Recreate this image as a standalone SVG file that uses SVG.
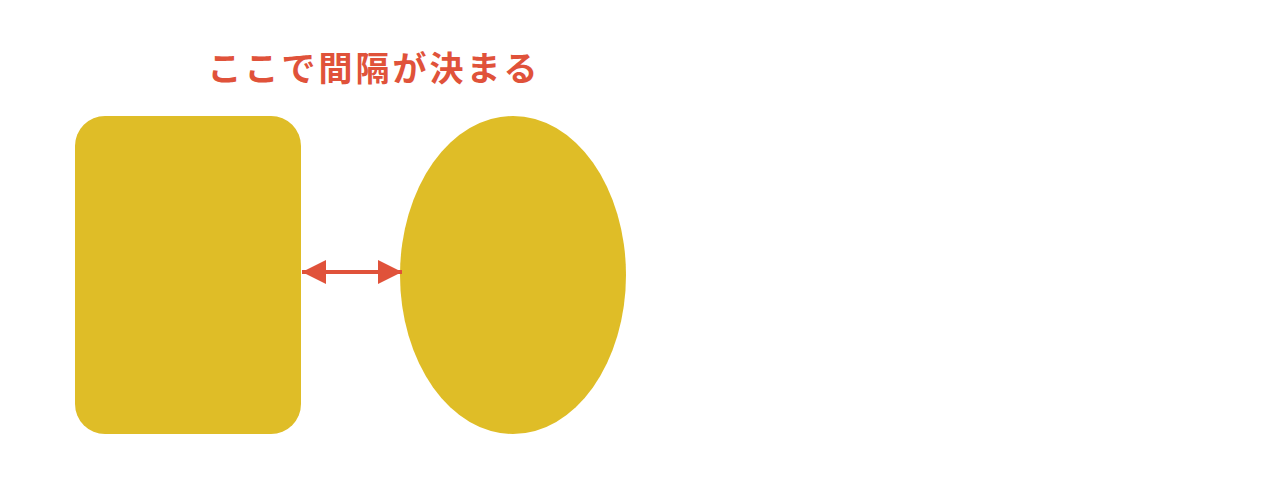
<svg xmlns="http://www.w3.org/2000/svg" width="1280" height="488" viewBox="0 0 1280 488">
<style>
.shape{fill:#dfbd27}
.lbl{font-family:"Noto Sans CJK JP","Noto Sans",sans-serif;font-weight:bold;font-size:34px;fill:#e0523a;letter-spacing:3px}
.conn{stroke:#e0523a;stroke-width:4;fill:none}
</style>
<defs>
<marker id="ah" viewBox="0 0 10 10" refX="10" refY="5" markerWidth="6" markerHeight="6" markerUnits="strokeWidth" orient="auto-start-reverse">
<path d="M0,0 L10,5 L0,10 z" fill="#e0523a"/>
</marker>
</defs>
<rect width="1280" height="488" fill="#ffffff"/>
<g id="title"><text class="lbl" x="374" y="81" text-anchor="middle">ここで間隔が決まる</text></g>
<g id="rect-node"><rect class="shape" x="75" y="116" width="226" height="318" rx="30" ry="30"/></g>
<g id="ellipse-node"><ellipse class="shape" cx="513" cy="275" rx="113" ry="159"/></g>
<g id="connectors"><line class="conn" x1="302" y1="272" x2="402" y2="272" marker-start="url(#ah)" marker-end="url(#ah)"/></g>
</svg>
